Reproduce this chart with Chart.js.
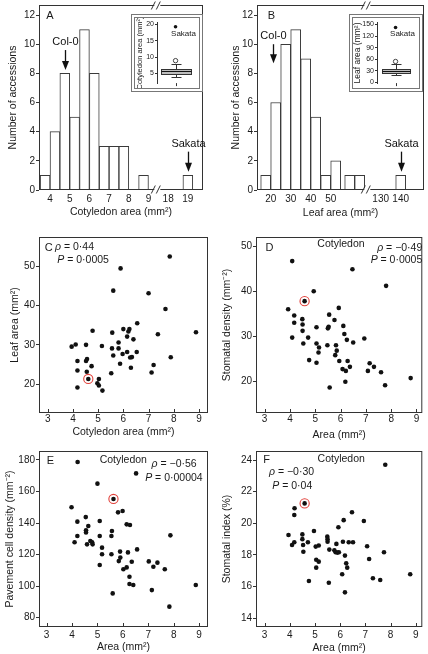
<!DOCTYPE html>
<html>
<head>
<meta charset="utf-8">
<script src="https://cdn.jsdelivr.net/npm/chart.js@4.4.1/dist/chart.umd.min.js"></script>
<style>
  html, body { margin: 0; padding: 0; background: #fff; }
  body { position: relative; width: 428px; height: 654px; overflow: hidden; }
  canvas { position: absolute; }
  .inset { position: absolute; border: 4px double #777; background: #fff; box-sizing: border-box; }
  .inset canvas { left: 0; top: 0; }
</style>
</head>
<body>
<canvas id="cA" width="214" height="222" style="left:0;top:0"></canvas>
<canvas id="cB" width="214" height="222" style="left:214px;top:0"></canvas>
<div class="inset" style="left:131px;top:14px;width:72px;height:78px"><canvas id="iA" width="64" height="70"></canvas></div>
<div class="inset" style="left:349px;top:14px;width:74px;height:78px"><canvas id="iB" width="66" height="70"></canvas></div>
<canvas id="cC" width="214" height="220" style="left:0;top:222px"></canvas>
<canvas id="cD" width="214" height="220" style="left:214px;top:222px"></canvas>
<canvas id="cE" width="214" height="214" style="left:0;top:440px"></canvas>
<canvas id="cF" width="214" height="214" style="left:214px;top:440px"></canvas>
<script>
// ---- data ----
// A: cotyledon area histogram (bin centres, mm2)
const cotBins = [3.75, 4.25, 4.75, 5.25, 5.75, 6.25, 6.75, 7.25, 7.75, 8.75, 19];
const cotCounts = [1, 4, 8, 5, 11, 8, 3, 3, 3, 1, 1];
const cotTicks = [4, 5, 6, 7, 8, 9, 18, 19];
// B: leaf area histogram
const leafBins = [17.5, 22.5, 27.5, 32.5, 37.5, 42.5, 47.5, 52.5, 59.5, 64.5, 140];
const leafCounts = [1, 6, 10, 11, 9, 5, 1, 2, 1, 1, 1];
const leafTicks = [20, 30, 40, 50, 130, 140];
const countTicks = [0, 2, 4, 6, 8, 10, 12];

// insets: whisker low, q1, median, q3, whisker high
const cotBox = [4.0, 4.9, 5.7, 6.35, 7.8];
const cotOut = [8.9];
const cotSakata = 19.3;
const cotInsetTicks = [5, 10, 15, 20];
const leafBox = [18, 24, 29, 35, 47];
const leafOut = [54];
const leafSakata = 142;
const leafInsetTicks = [0, 30, 60, 90, 120, 150];

// C: leaf area vs cotyledon area
const cotC = [3.95, 4.11, 4.18, 4.18, 4.18, 4.52, 4.52, 4.56, 4.55, 4.61, 4.74, 4.78, 4.97, 5.03, 5.03, 5.17, 5.15, 5.52, 5.55, 5.56, 5.6, 5.6, 5.89, 5.81, 5.81, 5.87, 5.97, 6.0, 6.15, 6.2, 6.24, 6.15, 6.27, 6.3, 6.34, 6.4, 6.53, 6.55, 7.0, 7.37, 7.12, 7.2, 7.67, 7.84, 7.88, 8.88];
const leafC = [29.55, 30.1, 25.9, 23.5, 19.2, 30.0, 25.9, 26.4, 23.2, 21.35, 24.6, 33.6, 20.25, 21.35, 19.7, 18.4, 29.7, 22.8, 29.1, 33.1, 27.3, 43.75, 49.4, 30.6, 29.1, 25.2, 27.7, 34.0, 32.1, 33.4, 34.0, 28.2, 26.8, 24.2, 26.9, 31.4, 28.2, 35.5, 43.1, 32.7, 23.0, 24.9, 39.1, 52.4, 26.85, 33.2];
const colC = [4.61, 21.35];

// D: stomatal density vs cotyledon area
const cotD = [3.93, 4.09, 4.09, 4.17, 4.17, 4.49, 4.5, 4.5, 4.53, 4.58, 4.72, 4.76, 4.94, 5.05, 5.05, 5.05, 5.15, 5.13, 5.48, 5.5, 5.53, 5.55, 5.57, 5.76, 5.82, 5.85, 5.79, 5.93, 5.95, 6.08, 6.11, 6.15, 6.19, 6.21, 6.25, 6.28, 6.37, 6.47, 6.5, 6.94, 7.08, 7.15, 7.32, 7.6, 7.76, 7.8, 8.77];
const stomD = [36.1, 46.8, 29.8, 34.7, 33.1, 33.9, 32.7, 31.3, 28.5, 37.9, 29.8, 24.8, 40.1, 32.1, 28.5, 24.2, 27.6, 26.5, 28.1, 31.85, 32.2, 34.9, 18.7, 33.7, 28.1, 26.9, 25.9, 36.4, 24.6, 22.8, 32.4, 30.6, 20.0, 22.4, 29.3, 24.6, 23.3, 45.0, 28.7, 29.6, 22.4, 24.1, 23.3, 22.1, 19.2, 41.3, 20.8];
const colD = [4.58, 37.9];

// E: pavement cell density vs cotyledon area
const cotE = [3.98, 4.1, 4.22, 4.21, 4.21, 4.54, 4.55, 4.55, 4.59, 4.64, 4.72, 4.81, 4.79, 5.0, 5.09, 5.09, 5.09, 5.18, 5.18, 5.55, 5.57, 5.55, 5.63, 5.6, 5.81, 5.84, 5.89, 5.9, 5.99, 6.02, 6.15, 6.15, 6.2, 6.26, 6.28, 6.26, 6.35, 6.41, 6.52, 6.56, 7.02, 7.14, 7.2, 7.36, 7.65, 7.83, 7.87, 8.87];
const paveE = [150.0, 127.8, 178.7, 140.9, 131.8, 143.8, 135.4, 134.1, 126.5, 138.1, 128.6, 126.5, 127.8, 165.0, 141.3, 131.8, 113.4, 124.4, 120.2, 120.2, 135.0, 131.8, 155.3, 95.4, 146.8, 115.9, 121.9, 118.1, 147.7, 110.7, 111.9, 139.2, 121.4, 106.0, 138.8, 101.4, 115.5, 100.7, 171.5, 123.3, 115.7, 97.5, 112.3, 114.9, 110.7, 87.0, 132.2, 100.7];
const colE = [5.63, 155.3];

// F: stomatal index vs cotyledon area
const cotF = [3.95, 4.09, 4.18, 4.18, 4.19, 4.5, 4.5, 4.53, 4.54, 4.59, 4.72, 4.76, 4.96, 5.03, 5.05, 5.05, 5.15, 5.15, 5.49, 5.5, 5.5, 5.57, 5.55, 5.77, 5.82, 5.85, 5.89, 5.93, 5.95, 6.08, 6.11, 6.14, 6.19, 6.19, 6.24, 6.28, 6.34, 6.47, 6.51, 6.94, 7.07, 7.15, 7.3, 7.59, 7.74, 7.79, 8.78];
const siF = [19.26, 18.63, 18.8, 20.53, 20.95, 19.3, 19.0, 18.63, 18.2, 21.26, 18.8, 16.36, 19.52, 18.53, 17.7, 17.2, 18.6, 17.58, 19.16, 18.84, 19.0, 18.34, 16.25, 18.3, 18.17, 18.7, 18.15, 19.75, 18.17, 16.78, 18.84, 20.2, 17.96, 15.64, 17.47, 17.2, 18.8, 20.7, 18.8, 20.15, 18.55, 17.75, 16.53, 16.42, 18.17, 23.7, 16.78];
const colF = [4.59, 21.26];

const areaTicks = [3, 4, 5, 6, 7, 8, 9];
const leafCTicks = [20, 30, 40, 50];
const stomTicks = [20, 30, 40, 50];
const paveTicks = [80, 100, 120, 140, 160, 180];
const siTicks = [14, 16, 18, 20, 22, 24];

// axis breaks: values beyond the break are drawn next to the last regular bin
const brkCot = v => (v > 12 ? v - 8 : v);
const brkLeaf = v => (v > 100 ? v - 55 : v);

// ---- drawing ----
const FONT = "'Liberation Sans', Arial, Helvetica, sans-serif";
const INK = '#333';
Chart.defaults.font.family = FONT;
Chart.defaults.font.size = 10;
Chart.defaults.color = '#1a1a1a';
Chart.defaults.animation = false;
Chart.defaults.responsive = false;
Chart.defaults.plugins.legend.display = false;
Chart.defaults.plugins.tooltip.enabled = false;

function zeroPad(s) {
    s.paddingTop = 0; s.paddingBottom = 0; s.paddingLeft = 0; s.paddingRight = 0;
}

// box round the plot, break marks, inward x ticks
const framePlugin = {
    id: 'frame',
    afterDatasetsDraw(chart, args, o) {
        if (!o || !o.on) return;
        const ctx = chart.ctx, a = chart.chartArea, x = chart.scales.x;
        ctx.save();
        ctx.strokeStyle = INK;
        ctx.lineWidth = 1;
        ctx.strokeRect(a.left + 0.5, a.top + 0.5, a.width - 1, a.height - 1);
        if (o.inTicks) {
            ctx.beginPath();
            x.ticks.forEach(t => {
                const px = Math.round(x.getPixelForValue(t.value)) + 0.5;
                ctx.moveTo(px, a.bottom - 1);
                ctx.lineTo(px, a.bottom - 4);
            });
            ctx.stroke();
        }
        if (o.brk != null) {
            const px = x.getPixelForValue(o.brk);
            [a.top + 0.5, a.bottom - 0.5].forEach(y => {
                ctx.fillStyle = '#fff';
                ctx.fillRect(px - 4, y - 1.5, 6, 3);
                ctx.beginPath();
                ctx.moveTo(px - 7, y + 4); ctx.lineTo(px - 3, y - 4);
                ctx.moveTo(px - 2, y + 4); ctx.lineTo(px + 2, y - 4);
                ctx.stroke();
            });
        }
        ctx.restore();
    }
};

// free text, with optional italic runs
const notesPlugin = {
    id: 'notes',
    afterDraw(chart, args, o) {
        if (!o || !o.items) return;
        const ctx = chart.ctx;
        ctx.save();
        ctx.fillStyle = '#1a1a1a';
        ctx.textBaseline = 'middle';
        ctx.textAlign = 'left';
        o.items.forEach(it => {
            const size = it.size || 10.5;
            const runs = typeof it.t === 'string' ? [[it.t, 0]] : it.t;
            const fontOf = r => (r[1] ? 'italic ' : '') + size + 'px ' + FONT;
            let w = 0;
            runs.forEach(r => { ctx.font = fontOf(r); w += ctx.measureText(r[0]).width; });
            let x = it.align === 'right' ? it.x - w : it.align === 'center' ? it.x - w / 2 : it.x;
            runs.forEach(r => {
                ctx.font = fontOf(r);
                ctx.fillText(r[0], x, it.y);
                x += ctx.measureText(r[0]).width;
            });
        });
        ctx.restore();
    }
};

// labelled down arrows, placed in data units
const arrowPlugin = {
    id: 'arrows',
    afterDraw(chart, args, o) {
        if (!o || !o.items) return;
        const ctx = chart.ctx, xs = chart.scales.x, ys = chart.scales.y;
        ctx.save();
        o.items.forEach(it => {
            const px = Math.round(xs.getPixelForValue(it.x)) + 0.5;
            const top = ys.getPixelForValue(it.y0), tip = ys.getPixelForValue(it.y1);
            ctx.strokeStyle = '#111';
            ctx.fillStyle = '#111';
            ctx.lineWidth = 1.3;
            ctx.beginPath();
            ctx.moveTo(px, top);
            ctx.lineTo(px, tip - 8);
            ctx.stroke();
            ctx.beginPath();
            ctx.moveTo(px - 3.5, tip - 9);
            ctx.lineTo(px + 3.5, tip - 9);
            ctx.lineTo(px, tip);
            ctx.closePath();
            ctx.fill();
            ctx.font = '11px ' + FONT;
            ctx.textAlign = 'center';
            ctx.textBaseline = 'middle';
            ctx.fillText(it.text, px, ys.getPixelForValue(it.ty));
        });
        ctx.restore();
    }
};

// box and whiskers for the insets
const boxPlugin = {
    id: 'boxplot',
    beforeDatasetsDraw(chart, args, o) {
        if (!o || !o.box) return;
        const ctx = chart.ctx, xs = chart.scales.x, ys = chart.scales.y, a = chart.chartArea;
        const [lo, q1, med, q3, hi] = o.box;
        const cx = Math.round(xs.getPixelForValue(1)) + 0.5;
        const hw = o.halfWidth, cap = o.cap;
        const py = v => Math.round(ys.getPixelForValue(v)) + 0.5;
        ctx.save();
        ctx.strokeStyle = INK;
        ctx.lineWidth = 1;
        ctx.beginPath();
        ctx.moveTo(cx, py(hi)); ctx.lineTo(cx, py(lo));
        ctx.moveTo(cx - cap, py(hi)); ctx.lineTo(cx + cap, py(hi));
        ctx.moveTo(cx - cap, py(lo)); ctx.lineTo(cx + cap, py(lo));
        ctx.moveTo(cx, a.bottom); ctx.lineTo(cx, a.bottom + 3);
        ctx.stroke();
        ctx.fillStyle = '#bdbdbd';
        ctx.fillRect(cx - hw, py(q3), 2 * hw, py(q1) - py(q3));
        ctx.strokeRect(cx - hw, py(q3), 2 * hw, py(q1) - py(q3));
        ctx.strokeStyle = '#111';
        ctx.beginPath();
        ctx.moveTo(cx - hw, py(med)); ctx.lineTo(cx + hw, py(med));
        ctx.stroke();
        ctx.restore();
    }
};

function histogram(id, bins, counts, ticks, brk, o) {
    return new Chart(document.getElementById(id), {
        type: 'bar',
        data: {
            datasets: [{
                data: bins.map((b, i) => ({ x: brk(b), y: counts[i] })),
                backgroundColor: '#fff',
                borderColor: '#3a3a3a',
                borderWidth: 1,
                barPercentage: 1,
                categoryPercentage: 1
            }]
        },
        options: {
            layout: { padding: { top: 5, right: o.padRight, left: 0, bottom: 0 } },
            scales: {
                x: {
                    type: 'linear', offset: false, min: o.xMin, max: o.xMax,
                    grid: { display: false, drawTicks: false }, border: { display: false },
                    afterBuildTicks: s => { s.ticks = ticks.map(v => ({ value: brk(v) })); },
                    afterFit: s => { s.height = 32; zeroPad(s); },
                    ticks: { autoSkip: false, maxRotation: 0, padding: 3, callback: (v, i) => ticks[i] },
                    title: { display: true, text: o.xTitle, font: { size: 10.5 }, padding: { top: 0, bottom: o.xTitlePad } }
                },
                y: {
                    min: 0, max: 12.69,
                    grid: { drawOnChartArea: false, tickLength: 3, color: INK }, border: { display: false },
                    afterBuildTicks: s => { s.ticks = countTicks.map(v => ({ value: v })); },
                    afterFit: s => { s.width = o.yWidth; zeroPad(s); },
                    ticks: { padding: 1 },
                    title: { display: true, text: 'Number of accessions', font: { size: 10.5 }, padding: { top: o.yTitlePad, bottom: 0 } }
                }
            },
            plugins: {
                frame: { on: true, brk: o.brk },
                arrows: { items: o.arrows },
                notes: { items: o.notes }
            }
        },
        plugins: [framePlugin, arrowPlugin, notesPlugin]
    });
}

function scatter(id, xs, ys, hl, yTicks, o) {
    return new Chart(document.getElementById(id), {
        type: 'scatter',
        data: {
            datasets: [
                { data: [{ x: hl[0], y: hl[1] }], pointRadius: 4.6, pointBackgroundColor: 'rgba(0,0,0,0)', pointBorderColor: '#e2403a', pointBorderWidth: 1.1 },
                { data: xs.map((x, i) => ({ x: x, y: ys[i] })), pointRadius: 2.3, pointBackgroundColor: '#111', pointBorderWidth: 0 }
            ]
        },
        options: {
            layout: { padding: { top: o.top, right: o.padRight, left: 0, bottom: 0 } },
            scales: {
                x: {
                    min: o.xMin, max: o.xMax,
                    grid: { display: false, drawTicks: false }, border: { display: false },
                    afterBuildTicks: s => { s.ticks = areaTicks.map(v => ({ value: v })); },
                    afterFit: s => { s.height = o.xHeight; zeroPad(s); },
                    ticks: { autoSkip: false, maxRotation: 0, padding: o.xTickPad },
                    title: { display: true, text: o.xTitle, font: { size: 10.5 }, padding: { top: 0, bottom: o.xTitlePad } }
                },
                y: {
                    min: o.yMin, max: o.yMax,
                    grid: { drawOnChartArea: false, tickLength: 3, color: INK }, border: { display: false },
                    afterBuildTicks: s => { s.ticks = yTicks.map(v => ({ value: v })); },
                    afterFit: s => { s.width = o.yWidth; zeroPad(s); },
                    ticks: { padding: 1 },
                    title: { display: true, text: o.yTitle, font: { size: 10.5 }, padding: { top: o.yTitlePad, bottom: 0 } }
                }
            },
            plugins: {
                frame: { on: true, inTicks: true },
                notes: { items: o.notes }
            }
        },
        plugins: [framePlugin, notesPlugin]
    });
}

function inset(id, box, outs, sakata, yTicks, o) {
    return new Chart(document.getElementById(id), {
        type: 'scatter',
        data: {
            datasets: [
                { data: [{ x: 1, y: sakata }], pointRadius: 1.8, pointBackgroundColor: '#111', pointBorderWidth: 0 },
                { data: outs.map(v => ({ x: 1, y: v })), pointRadius: 2.2, pointBackgroundColor: '#fff', pointBorderColor: '#333', pointBorderWidth: 0.9 }
            ]
        },
        options: {
            layout: { padding: { top: o.top, right: 0, left: 0, bottom: o.bottom } },
            scales: {
                x: { display: false, min: 0, max: 2 },
                y: {
                    min: o.yMin, max: o.yMax,
                    grid: { drawOnChartArea: false, tickLength: 2, color: INK }, border: { display: true, color: INK },
                    afterBuildTicks: s => { s.ticks = yTicks.map(v => ({ value: v })); },
                    afterFit: s => { s.width = o.yWidth; zeroPad(s); },
                    ticks: { font: { size: 7 }, padding: 1 },
                    title: { display: true, text: o.title, font: { size: o.titleSize }, padding: { top: 0, bottom: 0 } }
                }
            },
            plugins: {
                boxplot: { box: box, halfWidth: o.halfWidth, cap: 5 },
                notes: { items: [{ t: 'Sakata', x: o.sx, y: o.sy, align: 'center', size: 8 }] }
            }
        },
        plugins: [boxPlugin, notesPlugin]
    });
}

histogram('cA', cotBins, cotCounts, cotTicks, brkCot, {
    padRight: 11, yWidth: 39, xMin: 3.44, xMax: 11.77, brk: 9.5,
    xTitle: 'Cotyledon area (mm²)', xTitlePad: 3.7, yTitlePad: 7,
    arrows: [
        { x: 4.75, y0: 9.6, y1: 8.23, ty: 10.17, text: 'Col-0' },
        { x: brkCot(19), y0: 2.63, y1: 1.26, ty: 3.15, text: 'Sakata' }
    ],
    notes: [{ t: 'A', x: 50, y: 16, align: 'center', size: 11 }]
});

histogram('cB', leafBins, leafCounts, leafTicks, brkLeaf, {
    padRight: 4, yWidth: 43, xMin: 13.15, xMax: 96.65, brk: 68.8,
    xTitle: 'Leaf area (mm²)', xTitlePad: 2.7, yTitlePad: 15.4,
    arrows: [
        { x: 21, y0: 10.0, y1: 8.69, ty: 10.56, text: 'Col-0' },
        { x: brkLeaf(140), y0: 2.63, y1: 1.26, ty: 3.15, text: 'Sakata' }
    ],
    notes: [{ t: 'B', x: 57.3, y: 16, align: 'center', size: 11 }]
});

inset('iA', cotBox, cotOut, cotSakata, cotInsetTicks, {
    top: 2, bottom: 1.3, yWidth: 22, yMin: 2, yMax: 20.5,
    title: 'Cotyledon area (mm²)', titleSize: 7.5, halfWidth: 15, sx: 48.5, sy: 15.3
});

inset('iB', leafBox, leafOut, leafSakata, leafInsetTicks, {
    top: 1.3, bottom: 1.3, yWidth: 24, yMin: -2, yMax: 154,
    title: 'Leaf area (mm²)', titleSize: 8.5, halfWidth: 14, sx: 49.5, sy: 15.3
});

scatter('cC', cotC, leafC, colC, leafCTicks, {
    top: 15, padRight: 6, yWidth: 39, xHeight: 29, xTickPad: 0, xTitlePad: 4, yTitlePad: 8.7,
    xMin: 2.655, xMax: 9.357, yMin: 12.72, yMax: 57.36,
    xTitle: 'Cotyledon area (mm²)', yTitle: 'Leaf area (mm²)',
    notes: [
        { t: 'C', x: 48.7, y: 25.7, align: 'center', size: 11 },
        { t: [['ρ', 1], [' = 0·44', 0]], x: 55, y: 25.3 },
        { t: [['P', 1], [' = 0·0005', 0]], x: 57.3, y: 38 }
    ]
});

scatter('cD', cotD, stomD, colD, stomTicks, {
    top: 15, padRight: 3, yWidth: 42, xHeight: 29, xTickPad: 0, xTitlePad: 0.7, yTitlePad: 7,
    xMin: 2.66, xMax: 9.23, yMin: 13.04, yMax: 52.16,
    xTitle: 'Area (mm²)', yTitle: 'Stomatal density (mm⁻²)',
    notes: [
        { t: 'D', x: 55.5, y: 26, align: 'center', size: 11 },
        { t: 'Cotyledon', x: 127, y: 22, align: 'center' },
        { t: [['ρ', 1], [' = −0·49', 0]], x: 208.3, y: 25.7, align: 'right' },
        { t: [['P', 1], [' = 0·0005', 0]], x: 208.3, y: 38, align: 'right' }
    ]
});

scatter('cE', cotE, paveE, colE, paveTicks, {
    top: 11, padRight: 6, yWidth: 39, xHeight: 27, xTickPad: 2.5, xTitlePad: 1, yTitlePad: 3.7,
    xMin: 2.70, xMax: 9.35, yMin: 74.1, yMax: 185.7,
    xTitle: 'Area (mm²)', yTitle: 'Pavement cell density (mm⁻²)',
    notes: [
        { t: 'E', x: 50.5, y: 21, align: 'center', size: 11 },
        { t: 'Cotyledon', x: 123.3, y: 20, align: 'center' },
        { t: [['ρ', 1], [' = −0·56', 0]], x: 196.7, y: 24.3, align: 'right' },
        { t: [['P', 1], [' = 0·00004', 0]], x: 202.7, y: 37.7, align: 'right' }
    ]
});

scatter('cF', cotF, siF, colF, siTicks, {
    top: 11, padRight: 2, yWidth: 42, xHeight: 27, xTickPad: 2.5, xTitlePad: 0, yTitlePad: 7,
    xMin: 2.66, xMax: 9.26, yMin: 13.45, yMax: 24.57,
    xTitle: 'Area (mm²)', yTitle: 'Stomatal index (%)',
    notes: [
        { t: 'F', x: 52.5, y: 20.3, align: 'center', size: 11 },
        { t: 'Cotyledon', x: 127.2, y: 19.3, align: 'center' },
        { t: [['ρ', 1], [' = −0·30', 0]], x: 55, y: 31.7 },
        { t: [['P', 1], [' = 0·04', 0]], x: 58.3, y: 45.7 }
    ]
});
</script>
</body>
</html>
